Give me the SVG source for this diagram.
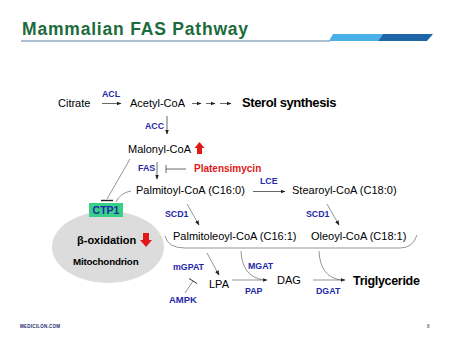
<svg xmlns="http://www.w3.org/2000/svg" width="450" height="338" viewBox="0 0 450 338">
<defs>
<style>
text{font-family:"Liberation Sans",Arial,sans-serif;}
.t{font-size:11px;fill:#000;}
.b{font-weight:bold;}
.lb{font-size:8.8px;font-weight:bold;fill:#1f2aa8;}
.ln{stroke:#444;stroke-width:0.8;fill:none;}
.gl{stroke:#666;stroke-width:0.7;fill:none;}
</style>
<marker id="ah" viewBox="0 0 10 10" refX="9" refY="5" markerWidth="5" markerHeight="5" orient="auto" markerUnits="userSpaceOnUse">
<path d="M0,1 L10,5 L0,9 z" fill="#222"/>
</marker>
</defs>
<rect width="450" height="338" fill="#fff"/>
<g id="header">
<text x="22" y="35" font-size="17.5" font-weight="bold" fill="#1c6b3c" letter-spacing="0.8">Mammalian FAS Pathway</text>
<line x1="21" y1="41" x2="330" y2="41" stroke="#5f7fa5" stroke-width="1"/>
<polygon points="333,34 383,34 378,41 329,41" fill="#49b0e8"/>
<polygon points="383,34 433,34 427,41 378,41" fill="#1c66a8"/>
</g>
<g id="connectors">
<line class="ln" x1="102" y1="103.5" x2="121" y2="103.5" marker-end="url(#ah)"/>
<line class="ln" x1="192" y1="103.5" x2="201" y2="103.5" marker-end="url(#ah)"/>
<line class="ln" x1="206" y1="103.5" x2="215" y2="103.5" marker-end="url(#ah)"/>
<line class="ln" x1="220" y1="103.5" x2="231" y2="103.5" marker-end="url(#ah)"/>
<line class="ln" x1="167" y1="116" x2="167" y2="134" marker-end="url(#ah)"/>
<line class="ln" x1="157" y1="162" x2="157" y2="179" marker-end="url(#ah)"/>
<line class="ln" x1="166" y1="169" x2="186" y2="169"/>
<line class="ln" x1="166" y1="165" x2="166" y2="173"/>
<line class="ln" x1="253" y1="191.5" x2="285" y2="191.5" marker-end="url(#ah)"/>
<line class="gl" x1="130" y1="159" x2="107" y2="199"/>
<line x1="101" y1="200.5" x2="113" y2="200.5" stroke="#222" stroke-width="1.4"/>
<path class="gl" d="M131,191 Q120,193 116,202"/>
<line class="ln" x1="108" y1="217" x2="108" y2="231" marker-end="url(#ah)"/>
<line class="gl" x1="187" y1="204" x2="199" y2="225" marker-end="url(#ah)"/>
<line class="gl" x1="327" y1="204" x2="339" y2="225" marker-end="url(#ah)"/>
<path class="gl" d="M165,236 Q168,248 185,248 L400,248 Q413,248 417,235"/>
<line class="gl" x1="207" y1="253" x2="219" y2="275" marker-end="url(#ah)"/>
<line class="gl" x1="185" y1="293" x2="193" y2="281"/>
<line x1="189" y1="278.5" x2="197" y2="283.5" stroke="#333" stroke-width="1"/>
<line class="gl" x1="232" y1="280" x2="267" y2="280" marker-end="url(#ah)"/>
<path class="gl" d="M241,251 Q242,277 264,280"/>
<line class="gl" x1="313" y1="280" x2="345" y2="280" marker-end="url(#ah)"/>
<path class="gl" d="M319,251 Q320,277 341,280"/>
</g>
<g id="n-mito">
<ellipse cx="108" cy="247" rx="56" ry="36" fill="#dcdcdc"/>
<text class="t b" x="77" y="244" font-size="11">β-oxidation</text>
<text class="t b" x="73" y="265" style="font-size:9.8px" letter-spacing="-0.2">Mitochondrion</text>
<path d="M143,233 L149,233 L149,240 L152,240 L146,247 L140,240 L143,240 z" fill="#e01818"/>
</g>
<g id="n-ctp1">
<rect x="89" y="203" width="34" height="14" fill="#38cf86"/>
<text x="106" y="214" font-size="10.5" font-weight="bold" fill="#1f2aa8" text-anchor="middle">CTP1</text>
</g>
<g id="n-citrate"><text class="t" x="58" y="107">Citrate</text></g>
<g id="l-acl"><text class="lb" x="102" y="97">ACL</text></g>
<g id="n-acetyl"><text class="t" x="130" y="107">Acetyl-CoA</text></g>
<g id="n-sterol"><text class="t b" x="242" y="107" style="font-size:13px" letter-spacing="-0.4">Sterol synthesis</text></g>
<g id="l-acc"><text class="lb" x="145" y="129">ACC</text></g>
<g id="n-malonyl">
<text class="t" x="128" y="153">Malonyl-CoA</text>
<path d="M197,154 L202,154 L202,148 L204.5,148 L199.5,142 L194.5,148 L197,148 z" fill="#e01818"/>
</g>
<g id="l-fas"><text class="lb" x="138" y="171">FAS</text></g>
<g id="n-platensimycin"><text x="194" y="172" font-size="10" font-weight="bold" fill="#e01818">Platensimycin</text></g>
<g id="n-palmitoyl"><text class="t" x="136" y="194">Palmitoyl-CoA (C16:0)</text></g>
<g id="l-lce"><text class="lb" x="260" y="184">LCE</text></g>
<g id="n-stearoyl"><text class="t" x="292" y="194">Stearoyl-CoA (C18:0)</text></g>
<g id="l-scd1a"><text class="lb" x="165" y="217">SCD1</text></g>
<g id="l-scd1b"><text class="lb" x="306" y="217">SCD1</text></g>
<g id="n-palmitoleoyl"><text class="t" x="173" y="240">Palmitoleoyl-CoA (C16:1)</text></g>
<g id="n-oleoyl"><text class="t" x="311" y="240">Oleoyl-CoA (C18:1)</text></g>
<g id="l-mgpat"><text class="lb" x="173" y="270">mGPAT</text></g>
<g id="n-lpa"><text class="t" x="209" y="288">LPA</text></g>
<g id="n-ampk"><text class="lb" x="169" y="303" style="font-size:9.5px">AMPK</text></g>
<g id="l-mgat"><text class="lb" x="248" y="269">MGAT</text></g>
<g id="l-pap"><text class="lb" x="245" y="294">PAP</text></g>
<g id="n-dag"><text class="t" x="277" y="284">DAG</text></g>
<g id="l-dgat"><text class="lb" x="316" y="294">DGAT</text></g>
<g id="n-tg"><text class="t b" x="353" y="285" style="font-size:12.5px" letter-spacing="-0.3">Triglyceride</text></g>
<g id="footer">
<text x="20" y="328" font-size="4.5" font-weight="bold" fill="#1f2a70" textLength="40">MEDICILON.COM</text>
<text x="427" y="328" font-size="4.5" fill="#333">8</text>
</g>
</svg>
